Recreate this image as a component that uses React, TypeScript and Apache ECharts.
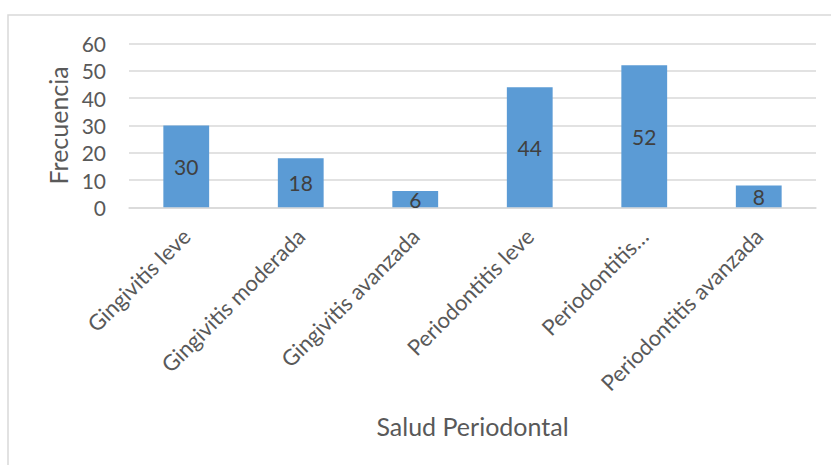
import React, { useEffect, useRef } from "react";
import * as echarts from "echarts";

const categories = [
  "Gingivitis leve",
  "Gingivitis moderada",
  "Gingivitis avanzada",
  "Periodontitis leve",
  "Periodontitis…",
  "Periodontitis avanzada",
];
const frecuencia = [30, 18, 6, 44, 52, 8];

const xAxisTitle = "Salud Periodontal";
const yAxisTitle = "Frecuencia";

const FONT = "Lato, 'Open Sans', sans-serif";
const TEXT = "#595959";
const GRID_LINE = "#D9D9D9";

export default function App() {
  const ref = useRef<HTMLDivElement>(null);

  useEffect(() => {
    if (!ref.current) return;
    const chart = echarts.init(ref.current, undefined, { renderer: "svg" });
    chart.setOption({
      animation: false,
      backgroundColor: "#ffffff",
      textStyle: { fontFamily: FONT },
      graphic: [
        {
          type: "polyline",
          shape: { points: [[831, 15], [8, 15], [8, 465]] },
          style: { stroke: GRID_LINE, lineWidth: 1.5, fill: "none" },
          silent: true,
        },
      ],
      grid: { left: 129, right: 15, top: 43.5, bottom: 257.7, containLabel: false },
      xAxis: {
        type: "category",
        data: categories,
        name: xAxisTitle,
        nameLocation: "middle",
        nameGap: 206,
        nameTextStyle: { color: TEXT, fontSize: 25, fontFamily: FONT },
        axisLine: { show: true, lineStyle: { color: GRID_LINE, width: 1.5 } },
        axisTick: { show: false },
        axisLabel: {
          interval: 0,
          rotate: 45,
          margin: 25,
          color: TEXT,
          fontSize: 22,
          fontFamily: FONT,
        },
      },
      yAxis: {
        type: "value",
        min: 0,
        max: 60,
        interval: 10,
        name: yAxisTitle,
        nameLocation: "middle",
        nameGap: 57,
        nameRotate: 90,
        nameTextStyle: { color: TEXT, fontSize: 25, fontFamily: FONT },
        axisLine: { show: false },
        axisTick: { show: false },
        axisLabel: { margin: 23, color: TEXT, fontSize: 21, fontFamily: FONT },
        splitLine: { lineStyle: { color: GRID_LINE, width: 1.5 } },
      },
      series: [
        {
          type: "bar",
          data: frecuencia,
          barWidth: "40%",
          itemStyle: { color: "#5B9BD5" },
          label: {
            show: true,
            position: "inside",
            color: "#404040",
            fontSize: 21,
            fontFamily: FONT,
          },
        },
      ],
    });
    return () => chart.dispose();
  }, []);

  return (
    <div
      ref={ref}
      style={{ position: "fixed", left: 0, top: 0, width: 831, height: 465 }}
    />
  );
}
